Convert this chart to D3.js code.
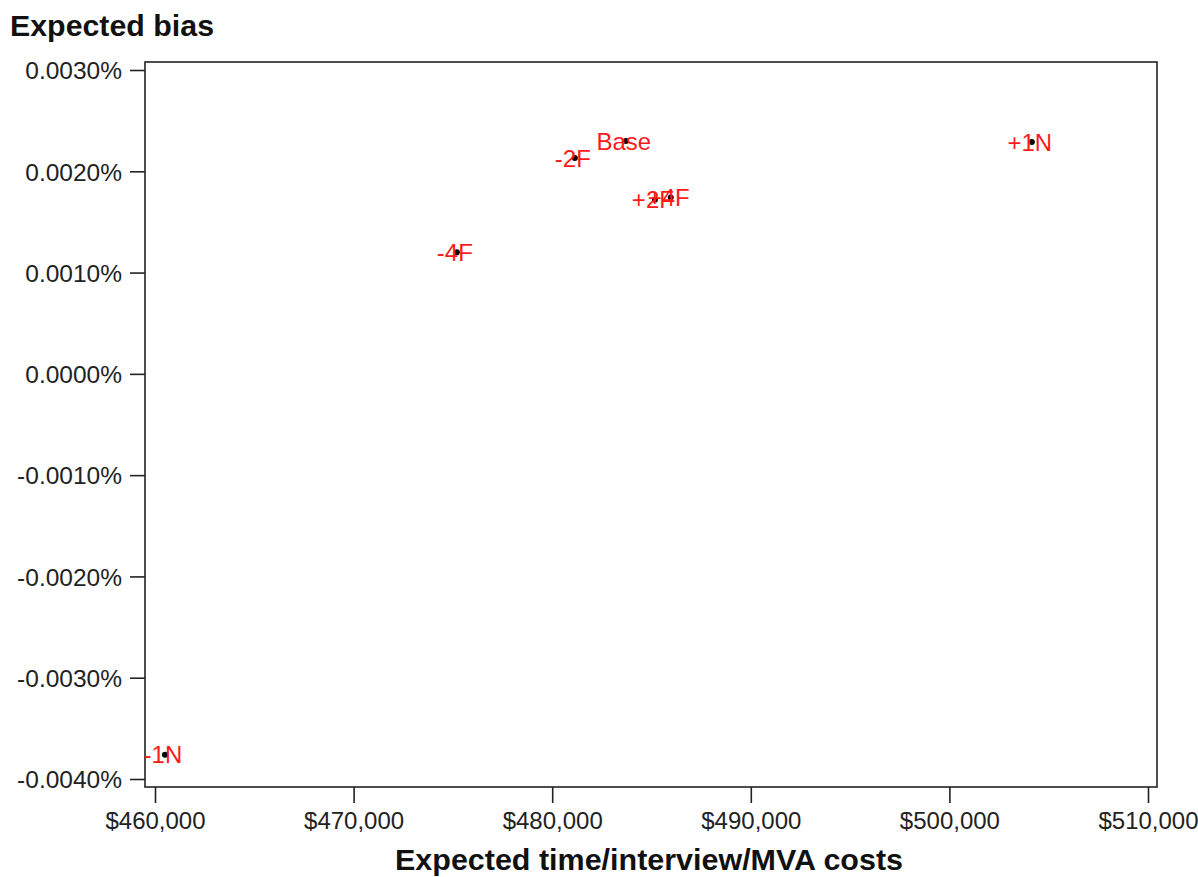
<!DOCTYPE html>
<html>
<head>
<meta charset="utf-8">
<script src="https://cdn.jsdelivr.net/npm/d3@7"></script>
<style>
  html, body { margin: 0; padding: 0; background: #fff; }
  svg { display: block; }
</style>
</head>
<body>
<svg id="chart" width="1198" height="877"></svg>
<script>
// ---- data ----
const pointLabels = ["Base", "-2F", "+2F", "+4F", "-4F", "+1N", "-1N"];
const costs = [483710, 481140, 485170, 485970, 475200, 504150, 460500];
const biasPct = [0.00230, 0.00213, 0.00172, 0.00174, 0.00120, 0.00229, -0.00376];
const xTicks = [460000, 470000, 480000, 490000, 500000, 510000];
const yTicks = [0.0030, 0.0020, 0.0010, 0.0000, -0.0010, -0.0020, -0.0030, -0.0040];
const xTitle = "Expected time/interview/MVA costs";
const yTitle = "Expected bias";

const svg = d3.select("#chart");
const font = "Arial, 'Liberation Sans', sans-serif";

const frame = { left: 145, top: 62, right: 1157, bottom: 787 };

const x = d3.scaleLinear().domain([460000, 510000]).range([155, 1148]);
const y = d3.scaleLinear().domain([-0.0040, 0.0030]).range([779, 70]);

// frame
svg.append("rect")
  .attr("x", frame.left).attr("y", frame.top)
  .attr("width", frame.right - frame.left).attr("height", frame.bottom - frame.top)
  .attr("fill", "none").attr("stroke", "#222").attr("stroke-width", 1.6);

const fmtY = v => (v < 0 ? "-" : "") + Math.abs(v).toFixed(4) + "%";
const fmtX = d3.format("$,");

// y axis
const yAxis = svg.append("g")
  .attr("transform", `translate(${frame.left},0)`)
  .call(d3.axisLeft(y).tickValues(yTicks).tickFormat(fmtY).tickSize(15).tickPadding(8));
yAxis.select(".domain").remove();
yAxis.selectAll(".tick line").attr("stroke", "#222").attr("stroke-width", 1.6);
yAxis.selectAll(".tick text")
  .attr("font-family", font).attr("font-size", 24.5).attr("fill", "#222")
  .attr("dy", "0.36em");

// x axis
const xAxis = svg.append("g")
  .attr("transform", `translate(0,${frame.bottom})`)
  .call(d3.axisBottom(x).tickValues(xTicks).tickFormat(fmtX).tickSize(16).tickPadding(9));
xAxis.select(".domain").remove();
xAxis.selectAll(".tick line").attr("stroke", "#222").attr("stroke-width", 1.6);
xAxis.selectAll(".tick text")
  .attr("font-family", font).attr("font-size", 24).attr("fill", "#222");

// titles
svg.append("text")
  .attr("x", 10).attr("y", 36)
  .attr("font-family", font).attr("font-weight", "bold").attr("font-size", 29)
  .attr("textLength", 204).attr("lengthAdjust", "spacingAndGlyphs")
  .attr("fill", "#111")
  .text(yTitle);

svg.append("text")
  .attr("x", 649).attr("y", 870)
  .attr("text-anchor", "middle")
  .attr("font-family", font).attr("font-weight", "bold").attr("font-size", 29)
  .attr("textLength", 508).attr("lengthAdjust", "spacingAndGlyphs")
  .attr("fill", "#111")
  .text(xTitle);

// points
const pts = pointLabels.map((l, i) => ({ label: l, cost: costs[i], bias: biasPct[i] }));

svg.append("g").selectAll("circle")
  .data(pts).join("circle")
  .attr("cx", d => x(d.cost)).attr("cy", d => y(d.bias))
  .attr("r", 3).attr("fill", "#000");

svg.append("g").selectAll("text")
  .data(pts).join("text")
  .attr("x", d => x(d.cost) - 2).attr("y", d => y(d.bias))
  .attr("dy", "0.36em")
  .attr("text-anchor", "middle")
  .attr("font-family", font).attr("font-size", 24)
  .attr("fill", "#ff1a1a")
  .text(d => d.label);
</script>
</body>
</html>
